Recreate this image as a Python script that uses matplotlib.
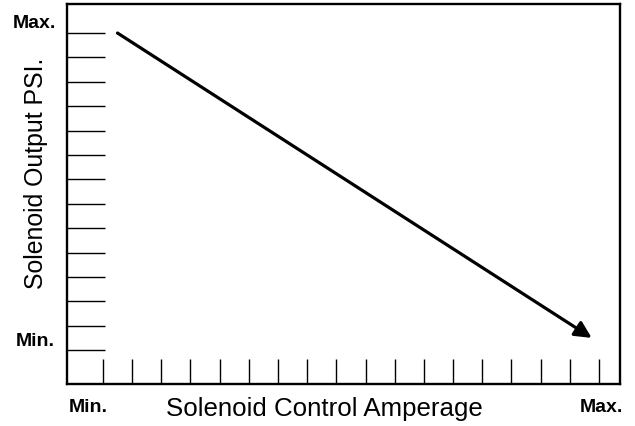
import matplotlib
matplotlib.use("Agg")
import matplotlib.pyplot as plt

# Data
x_ticks = list(range(1, 19))        # 18 amperage tick marks
y_ticks = list(range(1, 15))        # 14 pressure tick marks
line_x = [1.5, 17.75]               # arrow from Max PSI at low amperage
line_y = [14.0, 1.5]                # to Min PSI at high amperage
x_end_labels = ["Min.", "Max."]
y_end_labels = ["Min.", "Max."]
x_title = "Solenoid Control Amperage"
y_title = "Solenoid Output PSI."

W, H = 635, 426
fig = plt.figure(figsize=(W / 100, H / 100), dpi=100)
left, right, top, bottom = 67, 620, 4, 384
ax = fig.add_axes([left / W, 1 - bottom / H, (right - left) / W, (bottom - top) / H])

ax.set_xlim(-0.23, 18.72)
ax.set_ylim(-0.39, 15.19)

for s in ax.spines.values():
    s.set_linewidth(1.7)
    s.set_color("black")

ax.set_xticks(x_ticks)
ax.set_yticks(y_ticks)
ax.tick_params(axis="x", direction="in", length=18, width=1.0, labelbottom=False)
ax.tick_params(axis="y", direction="in", length=27, width=1.0, labelleft=False)

ax.annotate("", xy=(line_x[1], line_y[1]), xytext=(line_x[0], line_y[0]),
            arrowprops=dict(arrowstyle="-|>,head_length=1.0,head_width=0.5",
                            color="black", lw=2.3, shrinkA=0, shrinkB=0))

cond = ["Liberation Sans Narrow", "Liberation Sans", "DejaVu Sans"]
reg = ["Liberation Sans", "DejaVu Sans"]

def fx(px):
    return px / W

def fy(py):
    return 1 - py / H

lab_fs = 14
fig.text(fx(34), fy(24), y_end_labels[1], family=cond, weight="bold", fontsize=lab_fs,
         ha="center", va="center")
fig.text(fx(35), fy(342), y_end_labels[0], family=cond, weight="bold", fontsize=lab_fs,
         ha="center", va="center")
fig.text(fx(88), fy(408), x_end_labels[0], family=cond, weight="bold", fontsize=lab_fs,
         ha="center", va="center")
fig.text(fx(601), fy(408), x_end_labels[1], family=cond, weight="bold", fontsize=lab_fs,
         ha="center", va="center")

fig.text(fx(324), fy(409), x_title, family=reg, fontsize=18.6, ha="center", va="center")
fig.text(fx(36), fy(173), y_title, family=reg, fontsize=17.9, ha="center", va="center",
         rotation=90)

fig.savefig("out.png", dpi=100)
